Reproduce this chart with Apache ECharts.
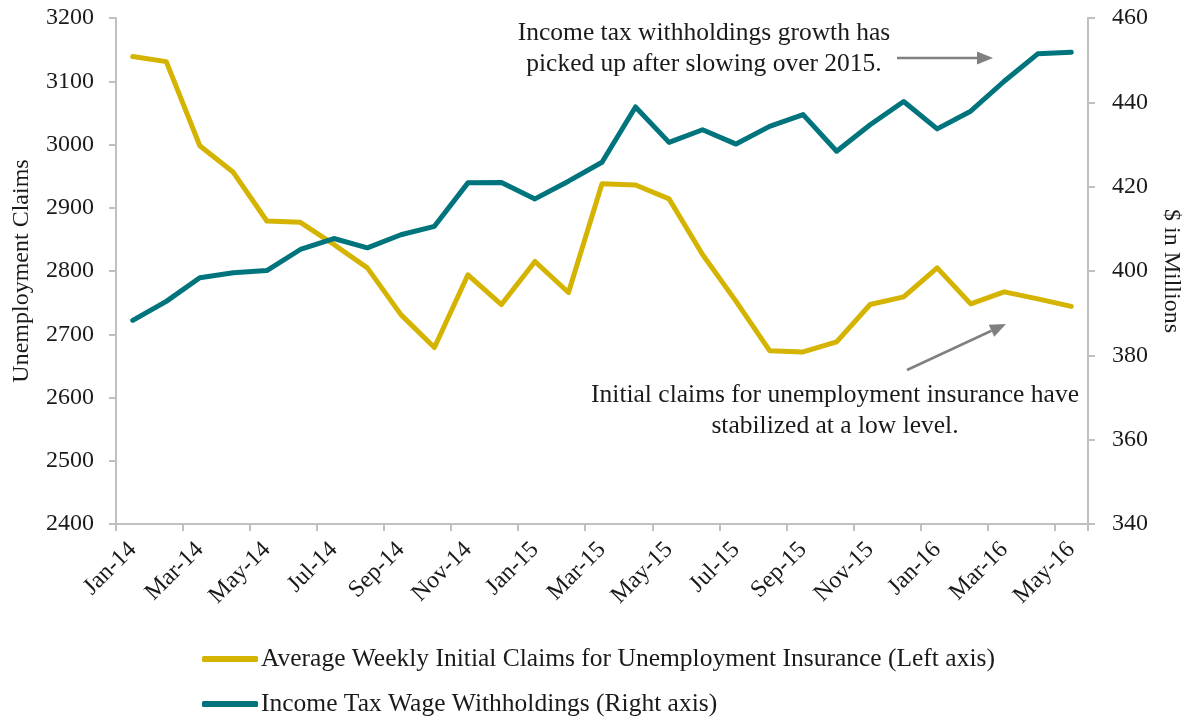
<!DOCTYPE html>
<html>
<head>
<meta charset="utf-8">
<script src="https://cdn.jsdelivr.net/npm/echarts@6/dist/echarts.min.js"></script>
<style>
  html, body { margin: 0; padding: 0; background: #ffffff; overflow: hidden; }
  #chart { width: 1183px; height: 721px; }
</style>
</head>
<body>
<div id="chart"></div>
<script>
// Monthly categories, Jan 2014 – May 2016
const months = ['Jan-14','Feb-14','Mar-14','Apr-14','May-14','Jun-14','Jul-14','Aug-14','Sep-14','Oct-14','Nov-14','Dec-14',
                'Jan-15','Feb-15','Mar-15','Apr-15','May-15','Jun-15','Jul-15','Aug-15','Sep-15','Oct-15','Nov-15','Dec-15',
                'Jan-16','Feb-16','Mar-16','Apr-16','May-16'];

// Average weekly initial claims for unemployment insurance (left axis)
const initialClaims = [3139, 3131, 2998, 2956, 2879, 2877, 2842, 2805, 2731, 2679, 2794, 2747,
                       2815, 2766, 2938, 2936, 2914, 2826, 2752, 2674, 2672, 2688, 2747, 2759,
                       2805, 2748, 2767, 2756, 2744];

// Income tax wage withholdings, $ millions (right axis)
const withholdings = [388.3, 392.8, 398.4, 399.6, 400.1, 405.1, 407.7, 405.5, 408.6, 410.6, 420.9, 421.0,
                      417.1, 421.3, 425.8, 438.9, 430.5, 433.5, 430.1, 434.3, 437.1, 428.4, 434.7, 440.2,
                      433.7, 437.9, 445.0, 451.5, 451.9];

const seriesNames = [
  'Average Weekly Initial Claims for Unemployment Insurance (Left axis)',
  'Income Tax Wage Withholdings (Right axis)'
];

const noteTop = ['Income tax withholdings growth has', 'picked up after slowing over 2015.'];
const noteBottom = ['Initial claims for unemployment insurance have', 'stabilized at a low level.'];

const FONT = '"Liberation Serif", "DejaVu Serif", serif';
const TEXT = '#1a1a1a';
const AXIS = '#c0c0c0';
const YELLOW = '#d4b400';
const TEAL = '#00747d';
const ARROW = '#808080';

const chart = echarts.init(document.getElementById('chart'), null, { renderer: 'canvas' });

function arrow(x1, y1, x2, y2) {
  const ang = Math.atan2(y2 - y1, x2 - x1);
  const len = 16, half = 6.5;
  const bx = x2 - len * Math.cos(ang), by = y2 - len * Math.sin(ang);
  const px = -Math.sin(ang) * half, py = Math.cos(ang) * half;
  return [
    { type: 'line', silent: true,
      shape: { x1: x1, y1: y1, x2: bx, y2: by },
      style: { stroke: ARROW, lineWidth: 2.5 } },
    { type: 'polygon', silent: true,
      shape: { points: [[x2, y2], [bx + px, by + py], [bx - px, by - py]] },
      style: { fill: ARROW } }
  ];
}

function note(lines, cx, y) {
  return {
    type: 'text', silent: true,
    x: cx, y: y,
    style: {
      text: lines.join('\n'),
      textAlign: 'center', textVerticalAlign: 'top',
      font: '25.5px ' + FONT, fill: TEXT, lineHeight: 31
    }
  };
}

function legendRow(name, top) {
  return {
    orient: 'horizontal', left: 197, top: top,
    itemWidth: 56, itemHeight: 6,
    icon: 'roundRect',
    textStyle: { fontFamily: FONT, fontSize: 25.5, color: TEXT, padding: [0, 0, 0, -2] },
    data: [name]
  };
}

const plain = v => String(v);

const option = {
  backgroundColor: '#ffffff',
  animation: false,
  textStyle: { fontFamily: FONT, color: TEXT },
  grid: { left: 116, right: 95, top: 18, bottom: 197, containLabel: false, outerBoundsMode: 'none' },
  legend: [
    legendRow(seriesNames[0], 641),
    legendRow(seriesNames[1], 686)
  ],
  xAxis: {
    type: 'category', data: months, boundaryGap: true,
    axisLine: { lineStyle: { color: AXIS, width: 2 } },
    axisTick: { show: true, interval: 1, length: 7, lineStyle: { color: AXIS, width: 2 } },
    axisLabel: { interval: 1, rotate: 45, margin: 22, fontFamily: FONT, fontSize: 24, color: TEXT }
  },
  yAxis: [
    {
      type: 'value', min: 2400, max: 3200, interval: 100, position: 'left',
      name: 'Unemployment Claims', nameLocation: 'middle', nameGap: 82,
      nameTextStyle: { fontFamily: FONT, fontSize: 24, color: TEXT },
      axisLine: { show: true, lineStyle: { color: AXIS, width: 2 } },
      axisTick: { show: true, length: 7, lineStyle: { color: AXIS, width: 2 } },
      axisLabel: { margin: 22, fontFamily: FONT, fontSize: 24, color: TEXT, formatter: plain },
      splitLine: { show: false }
    },
    {
      type: 'value', min: 340, max: 460, interval: 20, position: 'right',
      name: '$ in Millions', nameLocation: 'middle', nameGap: 64, nameRotate: -90,
      nameTextStyle: { fontFamily: FONT, fontSize: 24, color: TEXT },
      axisLine: { show: true, lineStyle: { color: AXIS, width: 2 } },
      axisTick: { show: true, length: 7, lineStyle: { color: AXIS, width: 2 } },
      axisLabel: { margin: 24, fontFamily: FONT, fontSize: 24, color: TEXT, formatter: plain },
      splitLine: { show: false }
    }
  ],
  series: [
    {
      name: seriesNames[0], type: 'line', yAxisIndex: 0, data: initialClaims,
      symbol: 'none', smooth: false, color: YELLOW,
      lineStyle: { color: YELLOW, width: 5, cap: 'round', join: 'round' }
    },
    {
      name: seriesNames[1], type: 'line', yAxisIndex: 1, data: withholdings,
      symbol: 'none', smooth: false, color: TEAL,
      lineStyle: { color: TEAL, width: 5, cap: 'round', join: 'round' }
    }
  ],
  graphic: [
    note(noteTop, 704, 18),
    note(noteBottom, 835, 380),
    ...arrow(897, 58, 993, 58),
    ...arrow(907, 370, 1006, 324)
  ]
};

chart.setOption(option);
</script>
</body>
</html>
